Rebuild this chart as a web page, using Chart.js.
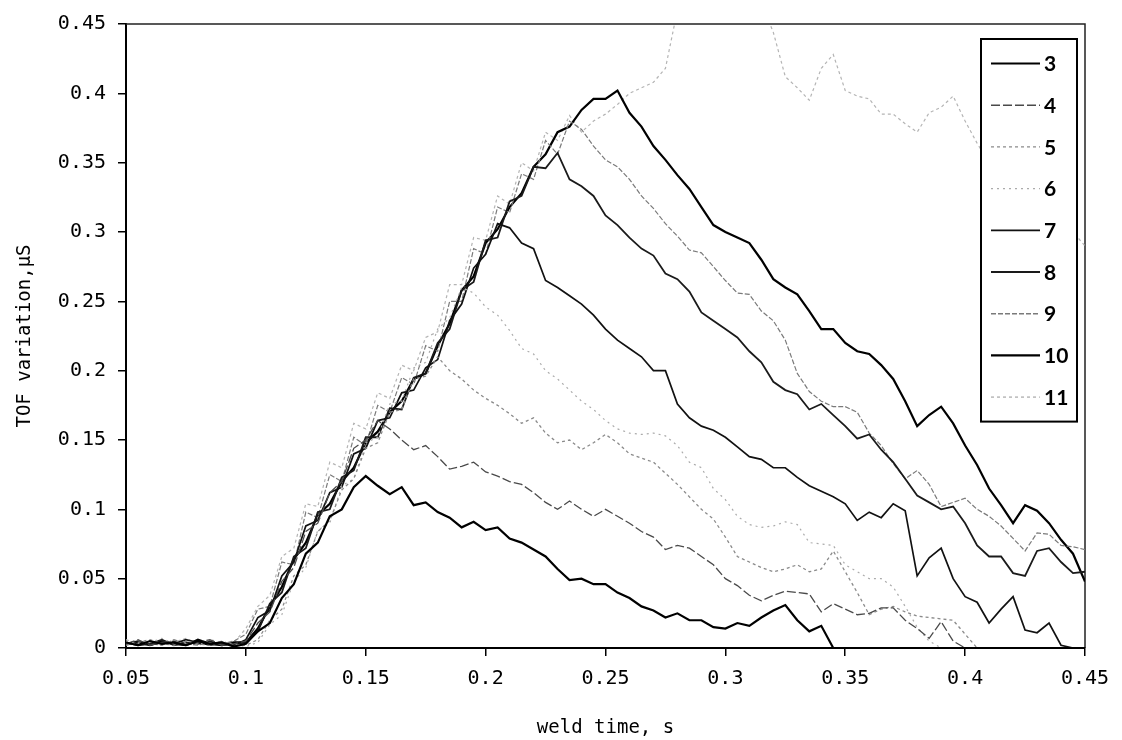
<!DOCTYPE html>
<html>
<head>
<meta charset="utf-8">
<script src="https://cdn.jsdelivr.net/npm/chart.js@4.4.1/dist/chart.umd.min.js"></script>
<style>
html, body { margin: 0; padding: 0; background: #fff; }
#wrap { width: 1122px; height: 740px; }
</style>
</head>
<body>
<div id="wrap"><canvas id="tofChart" width="1122" height="740"></canvas></div>
<script>
// weld time (s) sample points shared by every curve
const weldTime = [
    0.05, 0.055, 0.06, 0.065, 0.07, 0.075, 0.08, 0.085, 0.09, 0.095,
    0.1, 0.105, 0.11, 0.115, 0.12, 0.125, 0.13, 0.135, 0.14, 0.145,
    0.15, 0.155, 0.16, 0.165, 0.17, 0.175, 0.18, 0.185, 0.19, 0.195,
    0.2, 0.205, 0.21, 0.215, 0.22, 0.225, 0.23, 0.235, 0.24, 0.245,
    0.25, 0.255, 0.26, 0.265, 0.27, 0.275, 0.28, 0.285, 0.29, 0.295,
    0.3, 0.305, 0.31, 0.315, 0.32, 0.325, 0.33, 0.335, 0.34, 0.345,
    0.35, 0.355, 0.36, 0.365, 0.37, 0.375, 0.38, 0.385, 0.39, 0.395,
    0.4, 0.405, 0.41, 0.415, 0.42, 0.425, 0.43, 0.435, 0.44, 0.445,
    0.45
];

// TOF variation (uS) for each curve
const tof3 = [
    0.004, 0.002, 0.005, 0.003, 0.004, 0.002, 0.005, 0.003, 0.004, 0.001,
    0.003, 0.012, 0.018, 0.036, 0.046, 0.068, 0.076, 0.095, 0.100, 0.116,
    0.124, 0.117, 0.111, 0.116, 0.103, 0.105, 0.098, 0.094, 0.087, 0.091,
    0.085, 0.087, 0.079, 0.076, 0.071, 0.066, 0.057, 0.049, 0.050, 0.046,
    0.046, 0.040, 0.036, 0.030, 0.027, 0.022, 0.025, 0.020, 0.020, 0.015,
    0.014, 0.018, 0.016, 0.022, 0.027, 0.031, 0.020, 0.012, 0.016, 0,
    0, 0, 0, 0, 0, 0, 0, 0, 0, 0,
    0, 0, 0, 0, 0, 0, 0, 0, 0, 0,
    0
];
const tof4 = [
    0.003, 0.006, 0.002, 0.004, 0.005, 0.002, 0.004, 0.006, 0.002, 0.003,
    0.005, 0.018, 0.026, 0.048, 0.058, 0.084, 0.090, 0.112, 0.120, 0.144,
    0.150, 0.164, 0.158, 0.150, 0.143, 0.146, 0.138, 0.129, 0.131, 0.134,
    0.127, 0.124, 0.120, 0.118, 0.112, 0.105, 0.100, 0.106, 0.100, 0.095,
    0.100, 0.095, 0.090, 0.084, 0.080, 0.071, 0.074, 0.072, 0.066, 0.060,
    0.050, 0.045, 0.038, 0.034, 0.038, 0.041, 0.040, 0.039, 0.026, 0.032,
    0.028, 0.024, 0.025, 0.029, 0.029, 0.020, 0.014, 0.007, 0.019, 0.005,
    0, 0, 0, 0, 0, 0, 0, 0, 0, 0,
    0
];
const tof5 = [
    0.002, 0.004, 0.006, 0.003, 0.002, 0.005, 0.003, 0.002, 0.005, 0.002,
    0.002, 0.006, 0.020, 0.028, 0.052, 0.060, 0.084, 0.092, 0.114, 0.122,
    0.144, 0.148, 0.170, 0.172, 0.194, 0.196, 0.210, 0.200, 0.194, 0.186,
    0.180, 0.175, 0.169, 0.162, 0.166, 0.155, 0.148, 0.150, 0.143, 0.148,
    0.154, 0.148, 0.140, 0.137, 0.134, 0.126, 0.118, 0.109, 0.100, 0.093,
    0.080, 0.066, 0.062, 0.058, 0.055, 0.057, 0.060, 0.055, 0.057, 0.070,
    0.055, 0.040, 0.024, 0.028, 0.030, 0.026, 0.023, 0.022, 0.021, 0.020,
    0.010, 0, 0, 0, 0, 0, 0, 0, 0, 0,
    0
];
const tof6 = [
    0.005, 0.003, 0.004, 0.007, 0.003, 0.004, 0.002, 0.006, 0.004, 0.003,
    0.001, 0.004, 0.017, 0.024, 0.048, 0.058, 0.085, 0.090, 0.117, 0.122,
    0.148, 0.152, 0.176, 0.178, 0.202, 0.206, 0.230, 0.238, 0.260, 0.256,
    0.246, 0.240, 0.229, 0.216, 0.212, 0.200, 0.194, 0.186, 0.178, 0.172,
    0.164, 0.158, 0.155, 0.154, 0.155, 0.153, 0.146, 0.134, 0.130, 0.115,
    0.107, 0.095, 0.089, 0.087, 0.088, 0.091, 0.089, 0.076, 0.075, 0.074,
    0.060, 0.055, 0.050, 0.050, 0.044, 0.030, 0.015, 0.005, 0, 0,
    0, 0, 0, 0, 0, 0, 0, 0, 0, 0,
    0
];
const tof7 = [
    0.003, 0.005, 0.002, 0.004, 0.003, 0.006, 0.004, 0.002, 0.004, 0.002,
    0.006, 0.022, 0.027, 0.052, 0.062, 0.088, 0.092, 0.112, 0.116, 0.140,
    0.144, 0.164, 0.166, 0.184, 0.186, 0.202, 0.208, 0.236, 0.248, 0.274,
    0.284, 0.306, 0.303, 0.292, 0.288, 0.265, 0.260, 0.254, 0.248, 0.240,
    0.230, 0.222, 0.216, 0.210, 0.200, 0.200, 0.176, 0.166, 0.160, 0.157,
    0.152, 0.145, 0.138, 0.136, 0.130, 0.130, 0.123, 0.117, 0.113, 0.109,
    0.104, 0.092, 0.098, 0.094, 0.104, 0.099, 0.052, 0.065, 0.072, 0.050,
    0.037, 0.033, 0.018, 0.028, 0.037, 0.013, 0.011, 0.018, 0.002, 0,
    0
];
const tof8 = [
    0.004, 0.002, 0.003, 0.006, 0.002, 0.004, 0.003, 0.005, 0.002, 0.003,
    0.004, 0.012, 0.032, 0.040, 0.066, 0.072, 0.098, 0.100, 0.123, 0.128,
    0.152, 0.152, 0.173, 0.172, 0.195, 0.198, 0.220, 0.230, 0.258, 0.264,
    0.294, 0.296, 0.322, 0.326, 0.347, 0.346, 0.357, 0.338, 0.333, 0.326,
    0.312, 0.305, 0.296, 0.288, 0.283, 0.270, 0.266, 0.257, 0.242, 0.236,
    0.230, 0.224, 0.214, 0.206, 0.192, 0.186, 0.183, 0.172, 0.176, 0.168,
    0.160, 0.151, 0.154, 0.143, 0.134, 0.122, 0.110, 0.105, 0.100, 0.102,
    0.090, 0.074, 0.066, 0.066, 0.054, 0.052, 0.070, 0.072, 0.062, 0.054,
    0.055
];
const tof9 = [
    0.002, 0.005, 0.003, 0.002, 0.006, 0.003, 0.002, 0.004, 0.003, 0.005,
    0.010, 0.028, 0.030, 0.062, 0.060, 0.098, 0.094, 0.125, 0.120, 0.152,
    0.146, 0.175, 0.170, 0.195, 0.190, 0.218, 0.214, 0.250, 0.250, 0.288,
    0.284, 0.318, 0.314, 0.342, 0.338, 0.366, 0.356, 0.380, 0.374, 0.362,
    0.352, 0.347, 0.338, 0.326, 0.317, 0.306, 0.297, 0.287, 0.285, 0.275,
    0.265, 0.256, 0.255, 0.243, 0.236, 0.222, 0.198, 0.185, 0.178, 0.174,
    0.174, 0.170, 0.155, 0.146, 0.133, 0.122, 0.128, 0.118, 0.102, 0.105,
    0.108, 0.100, 0.095, 0.088, 0.079, 0.070, 0.083, 0.082, 0.074, 0.073,
    0.071
];
const tof10 = [
    0.003, 0.004, 0.002, 0.005, 0.003, 0.002, 0.006, 0.003, 0.002, 0.004,
    0.004, 0.014, 0.030, 0.044, 0.064, 0.076, 0.096, 0.104, 0.120, 0.130,
    0.148, 0.156, 0.170, 0.178, 0.194, 0.198, 0.218, 0.234, 0.258, 0.268,
    0.292, 0.302, 0.318, 0.328, 0.347, 0.356, 0.372, 0.376, 0.388, 0.396,
    0.396, 0.402, 0.386, 0.376, 0.362, 0.352, 0.341, 0.331, 0.318, 0.305,
    0.300, 0.296, 0.292, 0.280, 0.266, 0.260, 0.255, 0.243, 0.230, 0.230,
    0.220, 0.214, 0.212, 0.204, 0.194, 0.178, 0.160, 0.168, 0.174, 0.162,
    0.146, 0.132, 0.115, 0.103, 0.090, 0.103, 0.099, 0.090, 0.078, 0.068,
    0.048
];
const tof11 = [
    0.006, 0.003, 0.005, 0.002, 0.004, 0.007, 0.003, 0.005, 0.002, 0.004,
    0.014, 0.030, 0.038, 0.066, 0.072, 0.104, 0.102, 0.134, 0.130, 0.162,
    0.158, 0.184, 0.180, 0.204, 0.200, 0.224, 0.228, 0.262, 0.262, 0.296,
    0.294, 0.326, 0.320, 0.350, 0.344, 0.372, 0.366, 0.384, 0.372, 0.380,
    0.385, 0.392, 0.400, 0.404, 0.408, 0.418, 0.460, 0.490, 0.500, 0.510,
    0.505, 0.490, 0.480, 0.465, 0.444, 0.412, 0.404, 0.395, 0.418, 0.428,
    0.402, 0.398, 0.396, 0.385, 0.385, 0.378, 0.372, 0.386, 0.390, 0.398,
    0.380, 0.364, 0.350, 0.340, 0.330, 0.318, 0.305, 0.298, 0.285, 0.300,
    0.290
];

const seriesNames = ['3', '4', '5', '6', '7', '8', '9', '10', '11'];
const seriesValues = [tof3, tof4, tof5, tof6, tof7, tof8, tof9, tof10, tof11];

const xTickLabels = ['0.05', '0.1', '0.15', '0.2', '0.25', '0.3', '0.35', '0.4', '0.45'];
const yTickLabels = ['0', '0.05', '0.1', '0.15', '0.2', '0.25', '0.3', '0.35', '0.4', '0.45'];

// pen for each curve: colour, width, dash
const pens = [
    { color: '#000000', width: 2.2, dash: [] },
    { color: '#4a4a4a', width: 1.3, dash: [9, 3] },
    { color: '#8a8a8a', width: 1.3, dash: [3, 3] },
    { color: '#ababab', width: 1.2, dash: [2, 4] },
    { color: '#111111', width: 1.7, dash: [] },
    { color: '#1a1a1a', width: 1.8, dash: [] },
    { color: '#7a7a7a', width: 1.2, dash: [5, 2] },
    { color: '#000000', width: 2.2, dash: [] },
    { color: '#b4b4b4', width: 1.2, dash: [3, 3] },
];

const tickFont = { family: 'DejaVu Sans Mono', size: 20 };
const titleFont = { family: 'DejaVu Sans Mono', size: 19 };

const datasets = seriesValues.map((vals, i) => ({
    label: seriesNames[i],
    data: vals.map((v, k) => ({ x: weldTime[k], y: v })),
    borderColor: pens[i].color,
    borderWidth: pens[i].width,
    borderDash: pens[i].dash,
    pointRadius: 0,
    tension: 0,
    fill: false,
}));

// plot frame (top/right) and the boxed key drawn over the curves
const frameAndKey = {
    id: 'frameAndKey',
    beforeDatasetsDraw(chart) {
        const { ctx, chartArea: a } = chart;
        ctx.save();
        ctx.strokeStyle = '#222';
        ctx.lineWidth = 1.5;
        ctx.beginPath();
        ctx.moveTo(a.left, a.top);
        ctx.lineTo(a.right, a.top);
        ctx.lineTo(a.right, a.bottom);
        ctx.stroke();
        ctx.restore();
    },
    afterDatasetsDraw(chart) {
        const { ctx, chartArea: a } = chart;
        const rowH = 41.7;
        const n = chart.data.datasets.length;
        const left = a.right - 104;
        const top = a.top + 15;
        const w = 96;
        const h = rowH * (n - 1) + 49;
        ctx.save();
        ctx.fillStyle = '#fff';
        ctx.fillRect(left, top, w, h);
        ctx.strokeStyle = '#000';
        ctx.lineWidth = 2;
        ctx.strokeRect(left, top, w, h);
        ctx.font = 'bold 21px Lato';
        ctx.textBaseline = 'middle';
        ctx.textAlign = 'left';
        chart.data.datasets.forEach((ds, i) => {
            const y = top + 24.5 + i * rowH;
            ctx.strokeStyle = ds.borderColor;
            ctx.lineWidth = Math.max(ds.borderWidth, 1.4);
            ctx.setLineDash(ds.borderDash);
            ctx.beginPath();
            ctx.moveTo(left + 10, y);
            ctx.lineTo(left + 59, y);
            ctx.stroke();
            ctx.setLineDash([]);
            ctx.fillStyle = '#000';
            ctx.fillText(ds.label, left + 63, y + 1);
        });
        ctx.restore();
    }
};

const ctx = document.getElementById('tofChart').getContext('2d');
new Chart(ctx, {
    type: 'line',
    data: { datasets: datasets },
    plugins: [frameAndKey],
    options: {
        responsive: false,
        animation: false,
        devicePixelRatio: 1,
        layout: { padding: { left: 0, right: 37, top: 20, bottom: 0 } },
        plugins: {
            legend: { display: false },
            tooltip: { enabled: false }
        },
        scales: {
            x: {
                type: 'linear',
                min: 0.05,
                max: 0.45,
                border: { color: '#000', width: 2 },
                grid: { drawOnChartArea: false, tickLength: 8, color: '#000', lineWidth: 1.5 },
                ticks: {
                    stepSize: 0.05,
                    padding: 11,
                    color: '#000',
                    maxRotation: 0,
                    autoSkip: false,
                    font: tickFont,
                    callback: (v, i) => xTickLabels[i]
                },
                title: {
                    display: true,
                    text: 'weld time, s',
                    color: '#000',
                    font: titleFont,
                    padding: { top: 4, bottom: 1 }
                },
                afterFit: (scale) => { scale.height = 92; }
            },
            y: {
                min: 0,
                max: 0.45,
                border: { color: '#000', width: 2 },
                grid: { drawOnChartArea: false, tickLength: 8, color: '#000', lineWidth: 1.5 },
                ticks: {
                    stepSize: 0.05,
                    padding: 12,
                    color: '#000',
                    font: tickFont,
                    callback: (v, i) => yTickLabels[i]
                },
                title: {
                    display: true,
                    text: 'TOF variation,µS',
                    color: '#000',
                    font: titleFont,
                    padding: { top: 14, bottom: 4 }
                },
                afterFit: (scale) => { scale.width = 126; }
            }
        }
    }
});
</script>
</body>
</html>
